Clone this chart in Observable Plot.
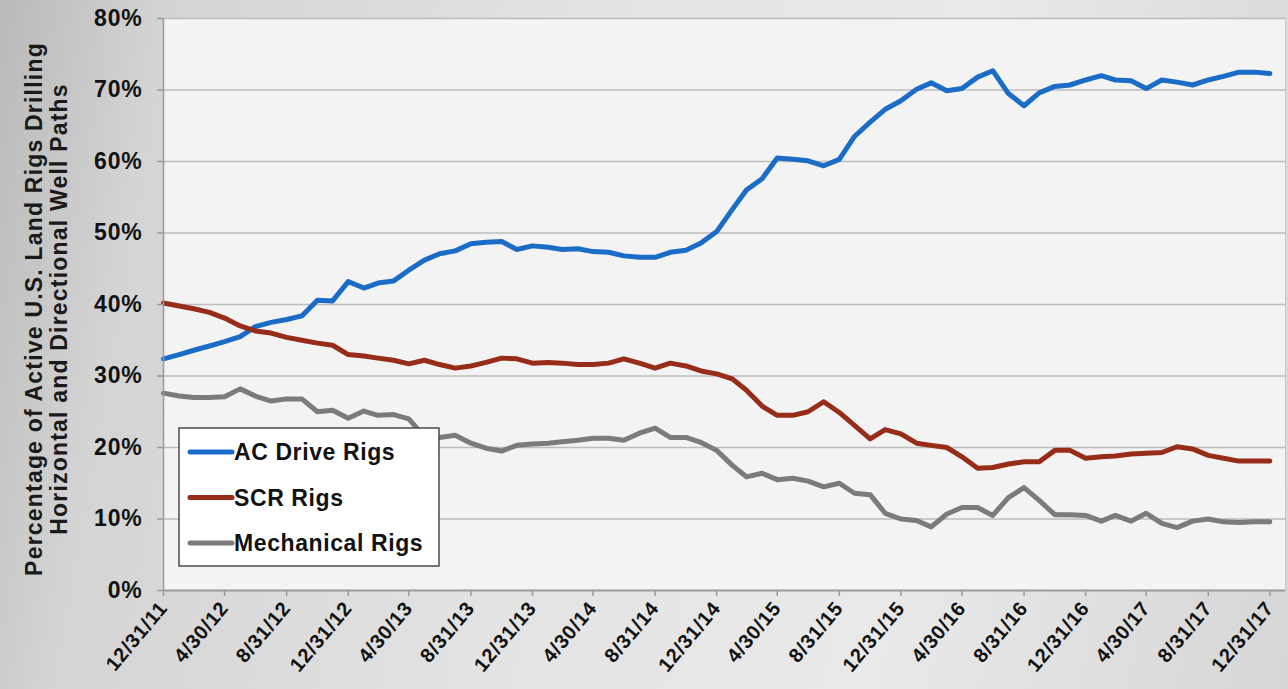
<!DOCTYPE html>
<html>
<head>
<meta charset="utf-8">
<script src="https://cdn.jsdelivr.net/npm/d3@7"></script>
<script src="https://cdn.jsdelivr.net/npm/@observablehq/plot@0.6"></script>
<style>
html, body { margin: 0; padding: 0; }
body {
  width: 1288px; height: 689px; overflow: hidden;
  background: linear-gradient(100deg, #b9b9b9 0%, #d4d4d4 12%, #e4e4e4 45%, #e9e9e9 70%, #d6d6d6 100%);
  font-family: "Liberation Sans", Arial, sans-serif;
}
#chart svg { display: block; }
</style>
</head>
<body>
<div id="chart"></div>
<script>
// ---- data ----
const seriesNames = ["AC Drive Rigs", "SCR Rigs", "Mechanical Rigs"];
const seriesColors = ["#1b6cc6", "#972c18", "#7b7b7b"];

// monthly values, 12/31/11 .. 12/31/17 (percent)
const acDrive = [
  32.4, 33.0, 33.6, 34.2, 34.8, 35.5, 36.9, 37.5, 37.9, 38.4,
  40.6, 40.5, 43.2, 42.3, 43.0, 43.3, 44.8, 46.2, 47.1, 47.5,
  48.5, 48.7, 48.8, 47.7, 48.2, 48.0, 47.7, 47.8, 47.4, 47.3,
  46.8, 46.6, 46.6, 47.3, 47.6, 48.6, 50.2, 53.3, 56.0, 57.6,
  60.5, 60.3, 60.1, 59.4, 60.3, 63.5, 65.5, 67.3, 68.5, 70.1,
  71.0, 69.9, 70.2, 71.8, 72.7, 69.5, 67.8, 69.6, 70.5, 70.7,
  71.4, 72.0, 71.4, 71.3, 70.2, 71.4, 71.1, 70.7, 71.4, 71.9,
  72.5, 72.5, 72.3
];
const scr = [
  40.2, 39.8, 39.4, 38.9, 38.1, 37.0, 36.3, 36.0, 35.4, 35.0,
  34.6, 34.3, 33.0, 32.8, 32.5, 32.2, 31.7, 32.2, 31.6, 31.1,
  31.4, 31.9, 32.5, 32.4, 31.8, 31.9, 31.8, 31.6, 31.6, 31.8,
  32.4, 31.8, 31.1, 31.8, 31.4, 30.7, 30.3, 29.6, 28.0, 25.8,
  24.5, 24.5, 25.0, 26.4, 24.9, 23.1, 21.2, 22.5, 21.9, 20.6,
  20.3, 20.0, 18.7, 17.1, 17.2, 17.7, 18.0, 18.0, 19.6, 19.6,
  18.5, 18.7, 18.8, 19.1, 19.2, 19.3, 20.1, 19.8, 18.9, 18.5,
  18.1, 18.1, 18.1
];
const mechanical = [
  27.6, 27.2, 27.0, 27.0, 27.1, 28.2, 27.2, 26.5, 26.8, 26.8,
  25.0, 25.2, 24.1, 25.1, 24.5, 24.6, 24.0, 21.5, 21.4, 21.7,
  20.6, 19.9, 19.5, 20.3, 20.5, 20.6, 20.8, 21.0, 21.3, 21.3,
  21.0, 22.0, 22.7, 21.4, 21.4, 20.7, 19.6, 17.5, 15.9, 16.4,
  15.5, 15.7, 15.3, 14.5, 15.0, 13.6, 13.4, 10.8, 10.0, 9.8,
  8.9, 10.7, 11.6, 11.6, 10.5, 13.0, 14.4, 12.6, 10.6, 10.6,
  10.5, 9.7, 10.5, 9.7, 10.8, 9.4, 8.8, 9.7, 10.0, 9.6,
  9.5, 9.6, 9.6
];

const xTickLabels = [
  "12/31/11", "4/30/12", "8/31/12", "12/31/12", "4/30/13", "8/31/13", "12/31/13",
  "4/30/14", "8/31/14", "12/31/14", "4/30/15", "8/31/15", "12/31/15", "4/30/16",
  "8/31/16", "12/31/16", "4/30/17", "8/31/17", "12/31/17"
];
const yTicks = [0, 10, 20, 30, 40, 50, 60, 70, 80];
const yTitle = ["Percentage of Active U.S. Land Rigs Drilling", "Horizontal and Directional Well Paths"];

// month-end dates 12/31/2011 .. 12/31/2017
const monthEnds = d3.utcMonths(new Date(Date.UTC(2012, 0, 1)), new Date(Date.UTC(2018, 0, 2)))
  .map(d => new Date(+d - 864e5));
const tickDates = monthEnds.filter((d, i) => i % 4 === 0);
const tickLabelMap = new Map(tickDates.map((d, i) => [+d, xTickLabels[i]]));

const valuesBySeries = [acDrive, scr, mechanical];
const rows = [];
seriesNames.forEach((name, k) => {
  valuesBySeries[k].forEach((v, i) => rows.push({ date: monthEnds[i], value: v, series: name }));
});

// ---- chart ----
const chart = Plot.plot({
  width: 1288,
  height: 689,
  marginLeft: 163,
  marginRight: 3,
  marginTop: 18,
  marginBottom: 99,
  style: {
    background: "transparent",
    fontFamily: "'Liberation Sans', Arial, sans-serif",
    fontWeight: "bold",
    color: "#111",
    overflow: "visible",
    letterSpacing: "0.8px"
  },
  x: { type: "utc", domain: [monthEnds[0], new Date(Date.UTC(2018, 0, 31))] },
  y: { domain: [0, 80] },
  color: { domain: seriesNames, range: seriesColors },
  marks: [
    Plot.frame({ fill: "#f3f3f3", stroke: "#c8c8c8", strokeWidth: 1 }),
    Plot.gridY(yTicks.filter(d => d > 0), { stroke: "#bcbcbc", strokeOpacity: 1, strokeWidth: 1.5 }),
    Plot.lineY(rows, {
      x: "date", y: "value", z: "series", stroke: "series",
      strokeWidth: 5, strokeLinejoin: "round", strokeLinecap: "round"
    }),
    Plot.axisY({
      ticks: yTicks, tickFormat: d => d + "%", tickSize: 6, tickPadding: 15,
      fontSize: 23, stroke: "#9a9a9a", strokeWidth: 1.5, label: null
    }),
    Plot.axisX({
      ticks: tickDates, tickFormat: d => tickLabelMap.get(+d), tickSize: 6, tickPadding: 8,
      tickRotate: -50, fontSize: 20, stroke: "#9a9a9a", strokeWidth: 1.5, label: null
    }),
    Plot.ruleX([monthEnds[0]], { stroke: "#9a9a9a", strokeWidth: 1.5 }),
    Plot.ruleY([0], { stroke: "#9a9a9a", strokeWidth: 2 })
  ]
});

document.getElementById("chart").appendChild(chart);

// ---- y-axis title ----
const svg = d3.select(chart);
const titleG = svg.append("g")
  .attr("font-family", "'Liberation Sans', Arial, sans-serif")
  .attr("font-weight", "bold")
  .attr("font-size", 23)
  .attr("fill", "#1a1a1a");
yTitle.forEach((t, k) => {
  titleG.append("text")
    .attr("transform", `translate(${34 + k * 25},309) rotate(-90)`)
    .attr("text-anchor", "middle")
    .attr("dominant-baseline", "central")
    .attr("letter-spacing", "1.2px")
    .text(t);
});

// ---- legend ----
const lg = svg.append("g")
  .attr("font-family", "'Liberation Sans', Arial, sans-serif")
  .attr("font-weight", "bold")
  .attr("font-size", 23)
  .attr("text-anchor", "start");
lg.append("rect")
  .attr("x", 179).attr("y", 428).attr("width", 260).attr("height", 138)
  .attr("fill", "#ffffff").attr("stroke", "#4a4a4a").attr("stroke-width", 1.5);
seriesNames.forEach((name, k) => {
  const y = 452 + k * 45.5;
  lg.append("line")
    .attr("x1", 190).attr("x2", 232).attr("y1", y).attr("y2", y)
    .attr("stroke", seriesColors[k]).attr("stroke-width", 5).attr("stroke-linecap", "round");
  lg.append("text")
    .attr("x", 234).attr("y", y).attr("dy", "0.36em")
    .attr("text-anchor", "start")
    .attr("fill", "#111").attr("letter-spacing", "0.6px")
    .text(name);
});
</script>
</body>
</html>
